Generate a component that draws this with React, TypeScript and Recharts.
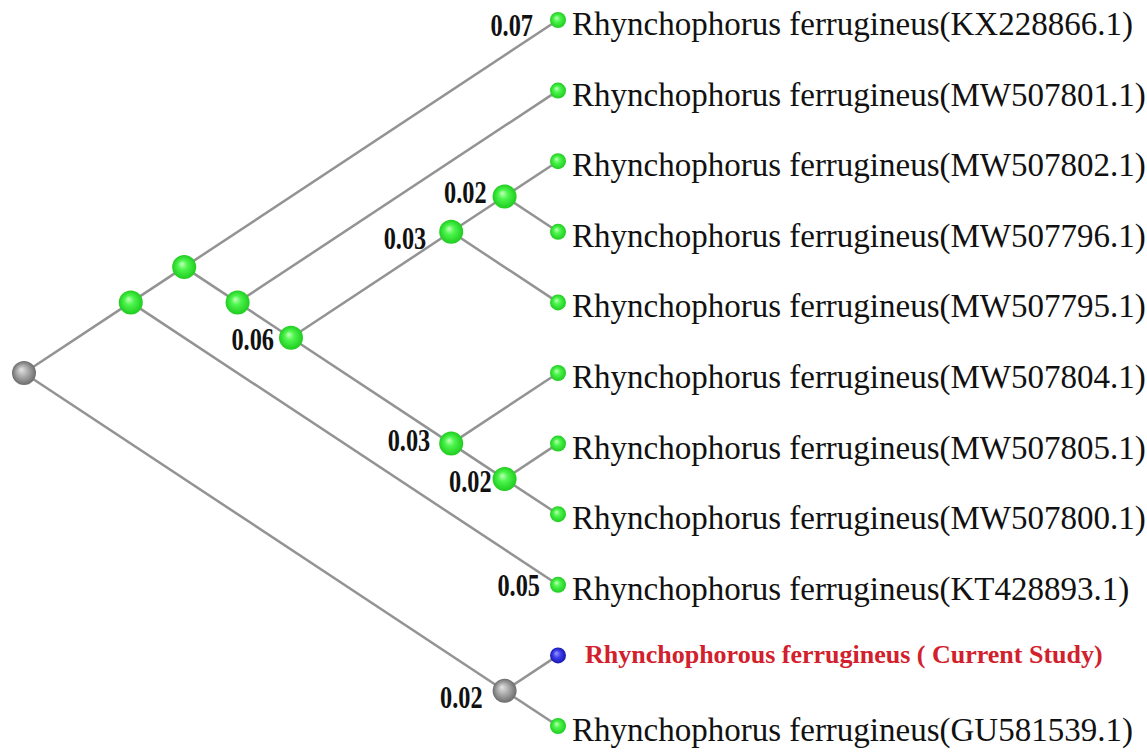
import { ScatterChart, Scatter, XAxis, YAxis } from 'recharts';

// internal nodes of the slanted cladogram: depth (root = 0, tips = 10) and vertical rank (tip rows 0..10)
const internalIds = ['root', 'A', 'B', 'C', 'D', 'E', 'G', 'F', 'H', 'I'];
const internalDepth = [0, 2, 3, 4, 5, 8, 9, 8, 9, 9];
const internalRank = [5, 4, 3.5, 4, 4.5, 3, 2.5, 6, 6.5, 9.5];
const internalParent = [null, 'root', 'A', 'B', 'C', 'D', 'E', 'D', 'F', 'root'];

// tips
const leafIds = [
  'KX228866.1', 'MW507801.1', 'MW507802.1', 'MW507796.1', 'MW507795.1',
  'MW507804.1', 'MW507805.1', 'MW507800.1', 'KT428893.1', 'current', 'GU581539.1',
];
const leafLabels = [
  'Rhynchophorus ferrugineus(KX228866.1)',
  'Rhynchophorus ferrugineus(MW507801.1)',
  'Rhynchophorus ferrugineus(MW507802.1)',
  'Rhynchophorus ferrugineus(MW507796.1)',
  'Rhynchophorus ferrugineus(MW507795.1)',
  'Rhynchophorus ferrugineus(MW507804.1)',
  'Rhynchophorus ferrugineus(MW507805.1)',
  'Rhynchophorus ferrugineus(MW507800.1)',
  'Rhynchophorus ferrugineus(KT428893.1)',
  'Rhynchophorous ferrugineus ( Current Study)',
  'Rhynchophorus ferrugineus(GU581539.1)',
];
const leafDepth = [10, 10, 10, 10, 10, 10, 10, 10, 10, 10, 10];
const leafRank = [0, 1, 2, 3, 4, 5, 6, 7, 8, 9, 10];
const leafParent = ['B', 'C', 'G', 'G', 'E', 'F', 'H', 'H', 'A', 'I', 'I'];

// branch values shown next to nodes
const supportNodes = ['KX228866.1', 'G', 'E', 'D', 'F', 'H', 'KT428893.1', 'I'];
const supportValues = ['0.07', '0.02', '0.03', '0.06', '0.03', '0.02', '0.05', '0.02'];

const grayNodes = ['root', 'I'];
const highlightLeaf = 'current';

type Node = { id: string; x: number; y: number; parent: string | null; label?: string };

const nodes: Node[] = [
  ...internalIds.map((id, i) => ({ id, x: internalDepth[i], y: internalRank[i], parent: internalParent[i] })),
  ...leafIds.map((id, i) => ({ id, x: leafDepth[i], y: leafRank[i], parent: leafParent[i], label: leafLabels[i] })),
];
const byId: Record<string, Node> = Object.fromEntries(nodes.map((n) => [n.id, n]));
const edges = nodes.filter((n) => n.parent).map((n) => [byId[n.parent as string], n]);

const internalGreen = nodes.filter((n) => internalIds.includes(n.id) && !grayNodes.includes(n.id));
const internalGray = nodes.filter((n) => grayNodes.includes(n.id));
const leafGreen = nodes.filter((n) => leafIds.includes(n.id) && n.id !== highlightLeaf);
const leafBlue = nodes.filter((n) => n.id === highlightLeaf);
const supportData = supportNodes.map((id, i) => ({ ...byId[id], value: supportValues[i] }));

// label nudges (px): right edge offset from node, vertical centre offset
const supportNudge: Record<string, [number, number]> = {
  'KX228866.1': [25, 5],
  G: [18, -5],
  E: [25, 6],
  D: [17, 1],
  F: [21, -4],
  H: [13, 2],
  'KT428893.1': [18, 0],
  I: [22, 6],
};

const ball = (fill: string, r: number) => (props: any) => (
  <circle cx={props.cx} cy={props.cy} r={r} fill={fill} />
);

const leafText = (props: any) => {
  const { cx, cy, payload } = props;
  if (payload.id === highlightLeaf) {
    return (
      <text x={cx + 27} y={cy + 8} fill="#d2202c" fontFamily="'Liberation Serif', serif" fontWeight="bold" fontSize={26}>
        {payload.label}
      </text>
    );
  }
  return (
    <text x={cx + 14} y={cy + 15} fill="#111" fontFamily="'Liberation Serif', serif" fontSize={33}>
      {payload.label}
    </text>
  );
};

const supportText = (props: any) => {
  const { cx, cy, payload } = props;
  const [dx, dy] = supportNudge[payload.id] || [18, 0];
  return (
    <text
      transform={`translate(${cx - dx},${cy + dy + 11}) scale(0.76,1)`}
      textAnchor="end"
      fill="#111"
      fontFamily="'Liberation Serif', serif"
      fontWeight="bold"
      fontSize={32}
    >
      {payload.value}
    </text>
  );
};

export default function App() {
  return (
    <div style={{ position: 'absolute', left: 0, top: 0, background: '#fff' }}>
      <ScatterChart width={1147} height={754} margin={{ top: 20, right: 589, bottom: 28, left: 24 }}>
        <defs>
          <radialGradient id="gGreen" cx="0.5" cy="0.5" r="0.5" fx="0.4" fy="0.36">
            <stop offset="0%" stopColor="#c4ffbc" />
            <stop offset="40%" stopColor="#4cf54c" />
            <stop offset="100%" stopColor="#20cc20" />
          </radialGradient>
          <radialGradient id="gGray" cx="0.5" cy="0.5" r="0.5" fx="0.38" fy="0.35">
            <stop offset="0%" stopColor="#e4e4e4" />
            <stop offset="50%" stopColor="#a8a8a8" />
            <stop offset="100%" stopColor="#6c6c6c" />
          </radialGradient>
          <radialGradient id="gBlue" cx="0.5" cy="0.5" r="0.5" fx="0.38" fy="0.35">
            <stop offset="0%" stopColor="#9a9aff" />
            <stop offset="50%" stopColor="#3a3ae8" />
            <stop offset="100%" stopColor="#1818b0" />
          </radialGradient>
        </defs>
        <XAxis type="number" dataKey="x" domain={[0, 10]} hide />
        <YAxis type="number" dataKey="y" domain={[0, 10]} reversed hide />
        {edges.map(([p, c]) => (
          <Scatter
            key={`e-${c.id}`}
            data={[p, c]}
            line={{ stroke: '#939393', strokeWidth: 2.5 }}
            shape={() => <g />}
            isAnimationActive={false}
          />
        ))}
        <Scatter data={leafGreen} shape={ball('url(#gGreen)', 8)} isAnimationActive={false} />
        <Scatter data={leafBlue} shape={ball('url(#gBlue)', 8)} isAnimationActive={false} />
        <Scatter data={internalGreen} shape={ball('url(#gGreen)', 12)} isAnimationActive={false} />
        <Scatter data={internalGray} shape={ball('url(#gGray)', 12)} isAnimationActive={false} />
        <Scatter data={[...leafGreen, ...leafBlue]} shape={leafText} isAnimationActive={false} />
        <Scatter data={supportData} shape={supportText} isAnimationActive={false} />
      </ScatterChart>
    </div>
  );
}
